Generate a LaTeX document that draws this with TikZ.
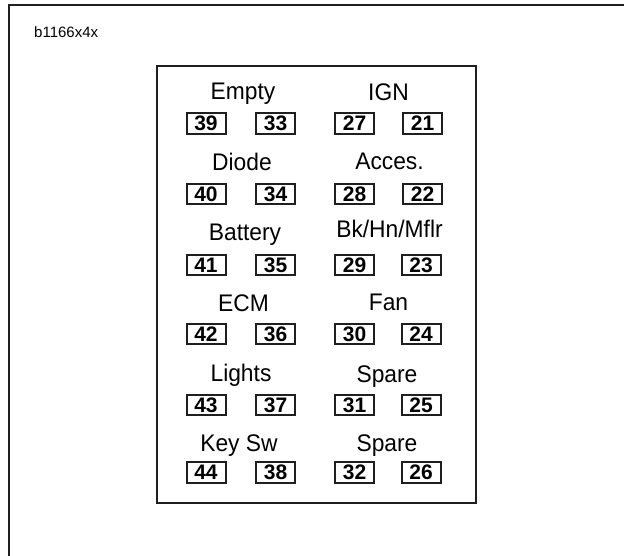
\documentclass[tikz,border=0pt]{standalone}
\usepackage{fontspec}
\setmainfont{Liberation Sans}
\newfontfamily\condfont[FakeStretch=0.95]{Liberation Sans}
\begin{document}
\begin{tikzpicture}[x=1pt,y=-1pt,
  frame/.style={draw=black!88,line width=2pt},
  lbl/.style={anchor=base,inner sep=0pt,font=\condfont\fontsize{24}{28}\selectfont},
  pin/.style={draw=black!88,line width=2pt,minimum width=39pt,minimum height=20.5pt,inner sep=0pt,font=\fontsize{21}{24}\selectfont\bfseries},
  ttl/.style={anchor=base west,inner sep=0pt,font=\fontsize{15}{18}\selectfont}]
\useasboundingbox (0,0) rectangle (624,556);
% outer frame (top and left edges only visible)
\draw[frame] (8.5,556) -- (8.5,5.5) -- (624,5.5);
\node[ttl] (title) at (34,38) {b1166x4x};
% inner panel
\draw[frame] (156.5,66.5) rectangle (475.5,503);
% labels
\node[lbl] (lEmpty) at (243,100) {Empty};
\node[lbl] (lIGN) at (388.5,101) {IGN};
\node[lbl] (lDiode) at (242,171) {Diode};
\node[lbl] (lAcces) at (389.5,170) {Acces.};
\node[lbl] (lBattery) at (245,241) {Battery};
\node[lbl] (lBk) at (389.5,238) {Bk/Hn/Mflr};
\node[lbl] (lECM) at (243.5,311) {ECM};
\node[lbl] (lFan) at (388.5,310) {Fan};
\node[lbl] (lLights) at (241,381) {Lights};
\node[lbl] (lSpare1) at (387,382) {Spare};
\node[lbl] (lKey) at (239,451) {Key Sw};
\node[lbl] (lSpare2) at (387,451) {Spare};
% pins
\node[pin] (p39) at (206,123.5) {39};
\node[pin] (p33) at (275.5,123.5) {33};
\node[pin] (p27) at (354.5,123.5) {27};
\node[pin] (p21) at (422.5,123.5) {21};
\node[pin] (p40) at (206,194) {40};
\node[pin] (p34) at (275.5,194) {34};
\node[pin] (p28) at (354.5,194) {28};
\node[pin] (p22) at (422.5,194) {22};
\node[pin] (p41) at (206,265) {41};
\node[pin] (p35) at (275.5,265) {35};
\node[pin] (p29) at (354.5,265) {29};
\node[pin] (p23) at (421,265) {23};
\node[pin] (p42) at (206,334) {42};
\node[pin] (p36) at (275.5,334) {36};
\node[pin] (p30) at (354.5,334) {30};
\node[pin] (p24) at (421,334) {24};
\node[pin] (p43) at (206,405) {43};
\node[pin] (p37) at (275.5,405) {37};
\node[pin] (p31) at (354.5,405) {31};
\node[pin] (p25) at (421,405) {25};
\node[pin] (p44) at (206,472.5) {44};
\node[pin] (p38) at (275.5,472.5) {38};
\node[pin] (p32) at (354.5,472.5) {32};
\node[pin] (p26) at (421,472.5) {26};
\end{tikzpicture}
\end{document}
